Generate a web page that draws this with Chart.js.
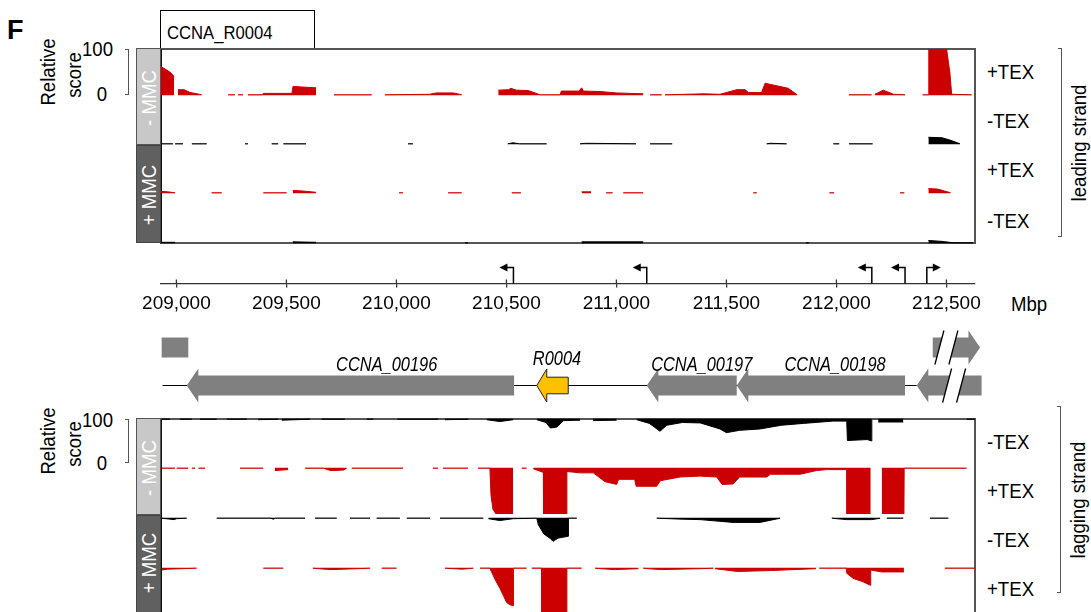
<!DOCTYPE html>
<html>
<head>
<meta charset="utf-8">
<script src="https://cdn.jsdelivr.net/npm/chart.js@4.4.1/dist/chart.umd.min.js"></script>
<style>
body{margin:0;width:1091px;height:612px;overflow:hidden;background:#fff;position:relative;font-family:Arial,"Liberation Sans",sans-serif;color:#000}
canvas{position:absolute}
.t{position:absolute;font-size:20px;line-height:20px;white-space:nowrap;transform-origin:0 50%;transform:scaleX(.93)}
.rt{position:absolute;font-size:20px;line-height:20px;white-space:nowrap;text-align:right;transform-origin:100% 50%;transform:scaleX(.93)}
.r{position:absolute;font-size:20px;line-height:20px;white-space:nowrap;transform:translate(-50%,-50%) rotate(-90deg) scaleX(.93)}
.box{position:absolute;box-sizing:border-box}
.frame{position:absolute;box-sizing:border-box;border:2px solid #555;border-left-color:#111}
.brk{position:absolute;box-sizing:border-box;border:1.5px solid #555;border-left:none}
.lite{background:#c8c8c8;border:1px solid #555}
.dark{background:#606060;border:1px solid #444}
.w{color:#fff}
</style>
</head>
<body>
<div class="t" style="left:7px;top:17px;font-size:27px;line-height:27px;font-weight:bold;transform:none">F</div>
<div class="box" style="left:160px;top:10px;width:155px;height:39px;border:1.5px solid #000;border-bottom:none;background:#fff"></div>
<div class="t" style="left:167px;top:24px;font-size:18.5px;line-height:18.5px;transform:scaleX(.9)">CCNA_R0004</div>

<!-- top panel -->
<div class="frame" style="left:160px;top:48px;width:816px;height:196px"></div>
<div class="box lite" style="left:136px;top:48px;width:25px;height:97px"></div>
<div class="box dark" style="left:136px;top:145px;width:25px;height:98px"></div>
<div class="r w" style="left:148.5px;top:97.5px">- MMC</div>
<div class="r w" style="left:148.5px;top:195px">+ MMC</div>
<div class="r" style="left:47.5px;top:71.5px">Relative</div>
<div class="r" style="left:74px;top:75px">score</div>
<div class="rt" style="left:60px;width:53px;top:39px">100</div>
<div class="rt" style="left:60px;width:47px;top:84px">0</div>
<div class="brk" style="left:125px;top:49px;width:4px;height:46px"></div>
<div class="t" style="left:987px;top:62px">+TEX</div>
<div class="t" style="left:987px;top:111px">-TEX</div>
<div class="t" style="left:987px;top:160px">+TEX</div>
<div class="t" style="left:987px;top:211px">-TEX</div>
<div class="brk" style="left:1058px;top:48px;width:4px;height:189px"></div>
<div class="r" style="left:1079px;top:143px">leading strand</div>

<div class="t" style="left:1011px;top:294px">Mbp</div>

<!-- bottom panel -->
<div class="frame" style="left:160px;top:418px;width:816px;height:260px"></div>
<div class="box lite" style="left:136px;top:418px;width:25px;height:97px"></div>
<div class="box dark" style="left:136px;top:515px;width:25px;height:120px"></div>
<div class="r w" style="left:148.5px;top:467.5px">- MMC</div>
<div class="r w" style="left:148.5px;top:563px">+ MMC</div>
<div class="r" style="left:47.5px;top:441px">Relative</div>
<div class="r" style="left:74px;top:444px">score</div>
<div class="rt" style="left:60px;width:53px;top:410px">100</div>
<div class="rt" style="left:60px;width:47px;top:453px">0</div>
<div class="brk" style="left:125px;top:419px;width:4px;height:44px"></div>
<div class="t" style="left:987px;top:432px">-TEX</div>
<div class="t" style="left:987px;top:481px">+TEX</div>
<div class="t" style="left:987px;top:530px">-TEX</div>
<div class="t" style="left:987px;top:579px">+TEX</div>
<div class="brk" style="left:1057px;top:406px;width:4px;height:187px"></div>
<div class="r" style="left:1078px;top:500px">lagging strand</div>

<canvas id="axis" width="1091" height="92" style="left:0;top:224px"></canvas>
<canvas id="genes" width="1091" height="95" style="left:0;top:319px"></canvas>

<script>
// genome window (bp)
const xMin = 208930;
const xMax = 212630;
const tickValues = [209000, 209500, 210000, 210500, 211000, 211500, 212000, 212500];

// transcription start sites
const tssPos = [210532, 211138, 212161, 212312, 212411];
const tssDir = ['-', '-', '-', '-', '+'];

// genes
const geneName = ['', 'CCNA_00196', 'R0004', 'CCNA_00197', 'CCNA_00198', '', ''];
const geneStart = [208933, 209047, 210638, 211138, 211547, 212365, 212438];
const geneEnd = [209054, 210535, 210781, 211547, 212312, 212660, 212653];
const geneStrand = ['', '-', '-', '-', '-', '-', '+'];
const geneLane = [1, 0, 0, 0, 0, 0, 1];
const geneKind = ['cds', 'cds', 'sRNA', 'cds', 'cds', 'cds', 'cds'];
const geneLabelAt = [0, 209956, 210730, 211388, 211994, 0, 0];
const genomeLine = [208937, 212365];
const breakAt = [212535, 212500]; // lane 0, lane 1

// coverage, relative score, [bp, score]; null = no reads
// leading strand
const lead1 = [ // +TEX, -MMC
  [208930,62],[208971,50],[208989,41],null,
  [209007,12],[209035,12],[209062,6],[209115,1],null,
  [209235,1],[209266,1],null,[209280,1],[209303,1],null,
  [209325,1],[209390,1],[209395,4],[209525,4],[209530,19],[209635,16],null,
  [209716,1],[209888,1],null,
  [209948,1],[210150,2],[210183,5],[210259,5],[210297,1],null,
  [210463,11],[210510,12],[210520,15],[210545,11],[210600,10],[210653,1],[210744,1],[210750,9],[210830,9],[210842,16],[210850,9],[210925,8],[211000,5],[211122,3],null,
  [211153,1],[211206,1],null,
  [211221,1],[211400,3],[211471,2],[211547,12],[211585,12],[211600,6],[211660,6],[211676,26],[211781,15],[211822,1],null,
  [212057,1],[212160,1],null,
  [212175,2],[212213,11],[212260,2],[212312,1],null,
  [212392,1],[212418,1],[212420,100],[212501,100],[212516,48],[212524,2],[212615,1]
];
const lead2 = [ // -TEX, -MMC
  [208930,1],[208985,1],null,[208994,1],[209030,1],null,[209070,1],[209138,1],null,
  [209312,1],[209325,1],null,[209433,1],[209463,1],null,[209486,1],[209589,1],null,
  [210053,1],[210075,1],null,[210506,1],[210530,3],[210560,1],[210683,1],null,
  [210835,1],[210860,2],[211089,1],null,[211153,1],[211254,1],null,
  [211683,1],[211700,2],[211774,1],null,[211986,1],[212013,1],null,[212057,1],[212165,1],null,
  [212418,15],[212480,14],[212516,9],[212562,1]
];
const lead3 = [ // +TEX, +MMC
  [208930,4],[208960,3],[208994,1],null,[209160,1],[209206,1],null,[209395,1],[209501,1],null,
  [209529,6],[209570,5],[209635,2],null,[210012,1],[210030,1],null,[210235,1],[210297,1],null,
  [210524,1],[210566,1],null,[210842,3],[210885,3],null,[210953,1],[210983,1],null,
  [211031,1],[211122,1],null,[211622,1],[211638,1],null,[211968,1],[211990,1],null,
  [212289,1],[212309,1],null,[212418,10],[212460,9],[212519,1]
];
const lead4 = [ // -TEX, +MMC
  [208930,2],[208994,2],null,[209529,3],[209635,2],null,[210312,1],[210325,1],null,
  [210842,3],[211122,3],null,[211862,1],[211875,1],null,
  [212418,6],[212480,4],[212530,1],[212621,1]
];
// lagging strand
const lag1 = [ // -TEX, -MMC
  [208933,1],[208971,1],null,[209016,1],[209070,1],null,[209107,1],[209183,1],null,
  [209229,1],[209320,1],null,[209372,2],[209463,1],null,[209479,3],[209607,1],null,
  [209660,1],[209766,1],null,[209865,1],[209895,1],null,[210004,1],[210190,1],null,
  [210221,2],[210327,1],null,[210410,2],[210470,6],[210531,2],null,
  [210638,2],[210680,8],[210700,20],[210729,18],[210760,4],[210835,3],null,
  [210894,4],[211001,3],null,
  [211092,2],[211150,10],[211198,27],[211229,14],[211300,8],[211381,9],[211471,22],[211500,30],[211560,25],[211653,22],[211750,14],[211850,10],[211985,5],[212047,5],
  [212050,47],[212140,45],[212160,48],[212161,2],null,[212190,7],[212304,7],null,
  [212592,1],[212630,1]
];
const lag2 = [ // +TEX, -MMC
  [208933,1],[208994,1],null,[209001,1],[209054,1],null,[209070,1],[209085,1],null,[209100,1],[209130,1],null,
  [209289,1],[209395,1],null,[209448,6],[209508,4],null,
  [209585,1],[209668,1],[209700,6],[209760,5],[209774,1],null,[209797,1],[210030,1],null,
  [210166,1],[210189,1],null,[210212,1],[210325,1],null,
  [210371,1],[210425,1],[210430,60],[210439,90],[210453,100],[210531,100],null,
  [210570,1],[210592,1],null,
  [210622,2],[210668,10],[210669,100],[210774,100],[210775,8],[210835,11],[210895,11],[210948,30],[211001,36],[211010,25],[211083,25],[211090,40],[211183,40],[211200,28],[211289,20],[211380,18],[211456,20],[211480,36],[211531,35],[211560,20],[211683,20],[211700,14],[211835,14],[211910,6],[211956,4],[212047,4],
  [212048,100],[212156,100],null,[212206,100],[212307,100],[212308,1],[212592,1]
];
const lag3 = [ // -TEX, +MMC
  [208933,1],[208990,4],[209000,2],[209047,1],null,
  [209183,1],[209430,1],[209440,3],[209450,1],[209585,1],null,
  [209630,1],[209729,1],null,[209789,1],[209880,1],null,[209910,1],[210016,1],null,
  [210047,1],[210153,1],null,[210198,1],[210395,1],null,
  [210418,2],[210470,6],[210531,2],[210638,1],[210645,15],[210670,35],[210700,45],[210712,51],[210735,44],[210781,40],[210782,1],[210820,1],null,
  [211183,1],[211300,3],[211380,4],[211530,10],[211653,10],[211744,1],null,
  [211979,1],[212047,4],[212160,4],[212199,1],null,[212229,1],[212304,1],null,[212425,1],[212509,1]
];
const lag4 = [ // +TEX, +MMC
  [208933,5],[208960,3],[209092,1],null,[209395,1],[209486,1],null,
  [209620,1],[209700,4],[209760,3],[209880,1],null,[209933,1],[210001,1],null,
  [210221,1],[210300,3],[210350,1],null,
  [210380,1],[210425,1],[210448,25],[210471,45],[210486,60],[210501,75],[210516,80],[210531,82],[210532,1],[210592,1],null,
  [210615,1],[210660,1],[210661,100],[210774,100],[210775,1],[210842,1],null,
  [210903,1],[210990,4],[211100,2],null,[211122,1],[211200,4],[211380,2],[211441,1],null,
  [211448,2],[211550,8],[211700,6],[211907,2],null,
  [211922,1],[212047,1],[212048,12],[212076,23],[212120,30],[212155,38],[212156,5],[212206,9],[212307,9],null,
  [212493,1],[212630,1]
];

const RED = '#cc0000';
const BLACK = '#000000';
Chart.defaults.font.family = '"Liberation Sans", Arial, sans-serif';

function toPoints(rows) {
  const pts = [];
  rows.forEach((d, i) => {
    if (d === null) pts.push({x: rows[i - 1][0] + 1, y: null});
    else pts.push({x: d[0], y: d[1]});
  });
  return pts;
}

function track(top, rows, color, down) {
  const cv = document.createElement('canvas');
  cv.width = 814;
  cv.height = 49;
  cv.style.left = '161px';
  cv.style.top = top + 'px';
  document.body.appendChild(cv);
  new Chart(cv, {
    type: 'line',
    data: {
      datasets: [{
        data: toPoints(rows),
        borderColor: color,
        backgroundColor: color,
        borderWidth: 1,
        pointRadius: 0,
        fill: 'origin',
        spanGaps: false,
        tension: 0
      }]
    },
    options: {
      responsive: false,
      animation: false,
      devicePixelRatio: 1,
      events: [],
      plugins: {legend: {display: false}, tooltip: {enabled: false}},
      scales: {
        x: {type: 'linear', display: false, min: xMin, max: xMax},
        y: {display: false, min: -6, max: 100, reverse: down}
      }
    }
  });
}

track(49, lead1, RED, false);
track(98, lead2, BLACK, false);
track(147, lead3, RED, false);
track(197, lead4, BLACK, false);
track(416, lag1, BLACK, true);
track(465, lag2, RED, true);
track(515, lag3, BLACK, true);
track(565, lag4, RED, true);

// position axis: upper tick stubs and TSS arrows
const tssPlugin = {
  id: 'tss',
  afterDraw(chart) {
    const {ctx} = chart;
    const x = chart.scales.x;
    const y0 = x.top;
    ctx.save();
    ctx.strokeStyle = '#333';
    ctx.lineWidth = 1.3;
    ctx.beginPath();
    x.ticks.forEach(t => {
      const px = x.getPixelForValue(t.value);
      ctx.moveTo(px, y0);
      ctx.lineTo(px, y0 - 4);
    });
    ctx.stroke();
    ctx.strokeStyle = '#000';
    ctx.fillStyle = '#000';
    ctx.lineWidth = 1.5;
    tssPos.forEach((p, i) => {
      const d = tssDir[i] === '+' ? 1 : -1;
      const px = x.getPixelForValue(p);
      ctx.beginPath();
      ctx.moveTo(px, y0);
      ctx.lineTo(px, y0 - 16);
      ctx.lineTo(px + d * 7, y0 - 16);
      ctx.stroke();
      ctx.beginPath();
      ctx.moveTo(px + d * 14, y0 - 16);
      ctx.lineTo(px + d * 6, y0 - 20);
      ctx.lineTo(px + d * 6, y0 - 12);
      ctx.closePath();
      ctx.fill();
    });
    ctx.restore();
  }
};

new Chart(document.getElementById('axis'), {
  type: 'scatter',
  data: {datasets: []},
  options: {
    responsive: false,
    animation: false,
    devicePixelRatio: 1,
    events: [],
    layout: {padding: {left: 161, right: 116, top: 27, bottom: 0}},
    plugins: {legend: {display: false}, tooltip: {enabled: false}},
    scales: {
      x: {
        type: 'linear', position: 'bottom', min: xMin, max: xMax,
        afterBuildTicks: s => { s.ticks = tickValues.map(v => ({value: v})); },
        grid: {drawOnChartArea: false, tickLength: 4, color: '#333', lineWidth: 1.3},
        border: {color: '#333', width: 1.3},
        ticks: {
          color: '#000', font: {size: 19}, padding: 5, maxRotation: 0, autoSkip: false,
          callback: v => v.toLocaleString('en-US')
        }
      },
      y: {display: false, min: 0, max: 1}
    }
  },
  plugins: [tssPlugin]
});

// gene track
const genePlugin = {
  id: 'genes',
  afterDraw(chart) {
    const {ctx} = chart;
    const x = chart.scales.x, y = chart.scales.y;
    const px = v => x.getPixelForValue(v);
    const ly = l => y.getPixelForValue(l);
    ctx.save();
    ctx.strokeStyle = '#000';
    ctx.lineWidth = 1.2;
    ctx.beginPath();
    ctx.moveTo(px(genomeLine[0]), ly(0));
    ctx.lineTo(px(genomeLine[1]), ly(0));
    ctx.stroke();
    geneStart.forEach((s, i) => {
      const yc = ly(geneLane[i]);
      const srna = geneKind[i] === 'sRNA';
      const bh = srna ? 8.3 : 10, hh = srna ? 16.5 : 17, hl = srna ? 10 : 11.6;
      const a = px(s), b = px(geneEnd[i]);
      ctx.beginPath();
      if (geneStrand[i] === '-') {
        ctx.moveTo(a, yc); ctx.lineTo(a + hl, yc - hh); ctx.lineTo(a + hl, yc - bh);
        ctx.lineTo(b, yc - bh); ctx.lineTo(b, yc + bh); ctx.lineTo(a + hl, yc + bh); ctx.lineTo(a + hl, yc + hh);
      } else if (geneStrand[i] === '+') {
        ctx.moveTo(b, yc); ctx.lineTo(b - hl, yc - hh); ctx.lineTo(b - hl, yc - bh);
        ctx.lineTo(a, yc - bh); ctx.lineTo(a, yc + bh); ctx.lineTo(b - hl, yc + bh); ctx.lineTo(b - hl, yc + hh);
      } else {
        ctx.rect(a, yc - bh, b - a, 2 * bh);
      }
      ctx.closePath();
      ctx.fillStyle = srna ? '#ffc000' : '#808080';
      ctx.fill();
      if (srna) { ctx.strokeStyle = '#222'; ctx.lineWidth = 1; ctx.stroke(); }
      if (geneName[i]) {
        ctx.save();
        ctx.translate(px(geneLabelAt[i]), yc - bh - (srna ? 12 : 5));
        ctx.scale(0.82, 1);
        ctx.font = 'italic 20px "Liberation Sans", Arial, sans-serif';
        ctx.textAlign = 'center';
        ctx.textBaseline = 'alphabetic';
        ctx.fillStyle = '#000';
        ctx.fillText(geneName[i], 0, 0);
        ctx.restore();
      }
    });
    // break marks "//"
    breakAt.forEach((b, lane) => {
      const cx = px(b), yc = ly(lane);
      const h = 17, sl = 4.5, g = 7;
      ctx.beginPath();
      ctx.moveTo(cx - g - sl, yc + h); ctx.lineTo(cx - g + sl, yc - h);
      ctx.lineTo(cx + g + sl, yc - h); ctx.lineTo(cx + g - sl, yc + h);
      ctx.closePath();
      ctx.fillStyle = '#fff';
      ctx.fill();
      ctx.strokeStyle = '#000';
      ctx.lineWidth = 1.3;
      ctx.beginPath();
      ctx.moveTo(cx - g - sl, yc + h); ctx.lineTo(cx - g + sl, yc - h);
      ctx.moveTo(cx + g - sl, yc + h); ctx.lineTo(cx + g + sl, yc - h);
      ctx.stroke();
    });
    ctx.restore();
  }
};

new Chart(document.getElementById('genes'), {
  type: 'scatter',
  data: {datasets: []},
  options: {
    responsive: false,
    animation: false,
    devicePixelRatio: 1,
    events: [],
    layout: {padding: {left: 161, right: 116, top: 0, bottom: 0}},
    plugins: {legend: {display: false}, tooltip: {enabled: false}},
    scales: {
      x: {type: 'linear', display: false, min: xMin, max: xMax},
      y: {display: false, min: -0.75, max: 1.75}
    }
  },
  plugins: [genePlugin]
});
</script>
</body>
</html>
